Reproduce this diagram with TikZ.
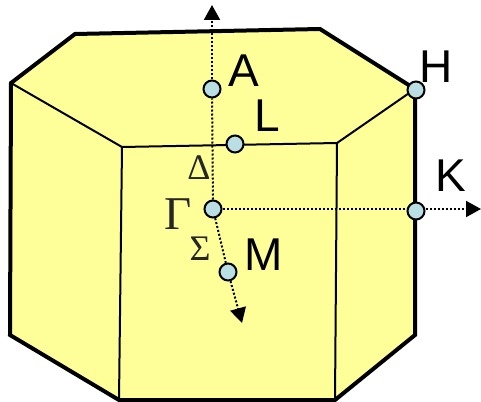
\documentclass[tikz,border=0pt]{standalone}
\usepackage{fontspec}
\usepackage{xcolor}
\usepackage{tikz}
\usetikzlibrary{arrows.meta}
\setmainfont{Liberation Sans}
\newfontfamily\greekfont{Liberation Serif}
\definecolor{cellyellow}{HTML}{FFFF99}
\definecolor{pointblue}{HTML}{B9DEE4}

\begin{document}
\begin{tikzpicture}[x=1pt, y=-1pt,
        point/.style={draw, circle, line width=2pt, minimum size=17pt, inner sep=0pt, fill=pointblue},
        letter/.style={inner sep=0pt, font=\fontsize{46}{50}\selectfont},
        greek/.style={inner sep=0pt, text=black!85, font=\greekfont\fontsize{36}{40}\selectfont},
        outer/.style={line width=4pt, miter limit=10},
        inner/.style={line width=2pt},
        dotline/.style={line width=2pt, dotted},
        dotarrow/.style={line width=2pt, dotted, -{Triangle[length=15pt, width=16pt, sep=0pt]}}]
        \useasboundingbox (0,0) rectangle (481,401);

        % Corners
        \coordinate (c1) at (11,83);
        \coordinate (c2) at (75,34);
        \coordinate (c3) at (320,29);
        \coordinate (c4) at (415,89);
        \coordinate (c5) at (415,335);
        \coordinate (c6) at (335,400);
        \coordinate (c7) at (119,400);
        \coordinate (c8) at (10,335);
        \coordinate (f1) at (122,147);
        \coordinate (f2) at (337,143);

        % Body
        \fill[cellyellow] (c1) -- (c2) -- (c3) -- (c4) -- (c5) -- (c6) -- (c7) -- (c8) -- cycle;
        \draw[inner] (c1) -- (f1) -- (f2) -- (c4);
        \draw[inner] (f1) -- (c7);
        \draw[inner] (f2) -- (c6);
        \draw[outer] (c1) -- (c2) -- (c3) -- (c4) -- (c5) -- (c6) -- (c7) -- (c8) -- cycle;

        % Points
        \node (a) [point] at (212,89) {};
        \node (l) [point] at (235,144) {};
        \node (gamma) [point] at (213,209) {};
        \node (m) [point] at (228,272) {};
        \node (h) [point] at (416,90) {};
        \node (k) [point] at (416,211) {};

        % Arrow ends
        \coordinate (top) at (212,5);
        \coordinate (right) at (481,209);
        \coordinate (bottom) at (242,323);

        % Paths
        \draw[dotline] (gamma) -- (a);
        \draw[dotarrow] (a) -- (top);
        \draw[dotline] (gamma) -- (k.west |- gamma);
        \draw[dotarrow] (k.east |- right) -- (right);
        \draw[dotline] (gamma) -- (m);
        \draw[dotarrow] (m) -- (bottom);

        % Labels
        \node (alabel) [letter] at (244,71) {A};
        \node (llabel) [letter] at (267,116) {L};
        \node (mlabel) [letter] at (264,255) {M};
        \node (hlabel) [letter] at (436,67) {H};
        \node (klabel) [letter] at (451,176) {K};
        \node (deltalabel) [greek] at (199,168) {Δ};
        \node (gammalabel) [greek, font=\greekfont\fontsize{47}{50}\selectfont] at (178,214) {Γ};
        \node (sigmalabel) [greek] at (200,249) {Σ};
    \end{tikzpicture}
\end{document}
